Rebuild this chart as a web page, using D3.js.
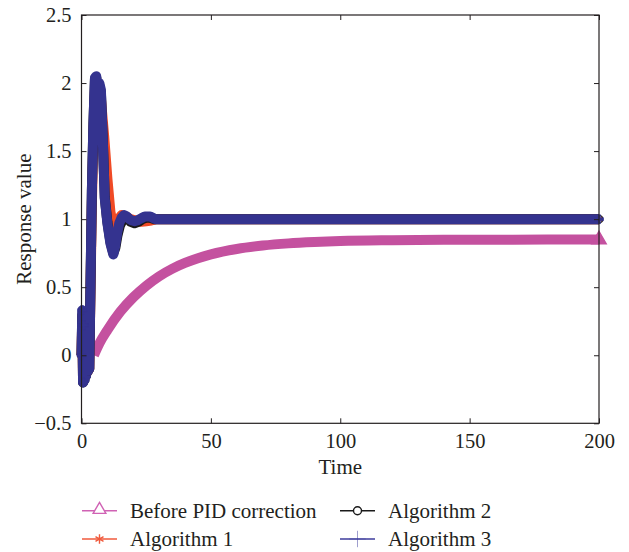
<!DOCTYPE html>
<html><head><meta charset="utf-8">
<script src="https://cdn.jsdelivr.net/npm/d3@7"></script>
<style>
html,body{margin:0;padding:0;background:#fff;}
svg{display:block;}
text{font-family:"Liberation Serif","Times New Roman",serif;fill:#231f20;}
</style></head>
<body><svg id="c" width="629" height="552"></svg>
<script>
// ---- data ----
const xTicks = [0, 50, 100, 150, 200];
const yTicks = [-0.5, 0, 0.5, 1, 1.5, 2, 2.5];
const yTickLabels = ["\u22120.5", "0", "0.5", "1", "1.5", "2", "2.5"];
const seriesNames = ["Before PID correction", "Algorithm 1", "Algorithm 2", "Algorithm 3"];

const tBefore = [4.8, 7, 10, 15, 20, 25, 30, 35, 40, 45, 50, 60, 70, 80, 90, 100, 120, 140, 160, 180, 200];
const yBefore = [0.0, 0.09, 0.185, 0.32, 0.425, 0.51, 0.58, 0.635, 0.678, 0.713, 0.741, 0.781, 0.806, 0.822, 0.832, 0.839, 0.845, 0.848, 0.849, 0.85, 0.85];

const tAlg1 = [0, 0.3, 0.6, 0.9, 1.2, 1.5, 1.8, 2.1, 2.4, 2.7, 3.0, 3.5, 4.0, 4.6, 5.2, 6.0, 7.2, 8.8, 10.0, 11.2, 12.3, 13.3, 14.3, 15.5, 17, 19, 21, 23, 25, 27, 29, 31, 50, 100, 150, 200];
const yAlg1 = [0, 0.28, -0.18, 0.24, -0.16, 0.2, -0.14, 0.16, -0.12, 0.12, -0.1, 0.5, 1.1, 1.6, 1.95, 2.0, 1.95, 1.6, 1.3, 1.05, 0.95, 0.95, 1.0, 1.03, 1.02, 1.0, 0.99, 0.98, 0.985, 0.99, 1.0, 1.0, 1.0, 1.0, 1.0, 1.0];

const tAlg2 = [0, 0.3, 0.6, 0.9, 1.2, 1.5, 1.8, 2.1, 2.4, 2.7, 3.0, 3.5, 4.0, 4.6, 5.2, 5.7, 6.3, 6.9, 7.5, 8.2, 9.0, 10, 11.2, 12.3, 13.1, 13.9, 14.8, 15.8, 16.8, 17.8, 19, 20.5, 22, 23.5, 25, 26.5, 28, 30, 50, 100, 150, 200];
const yAlg2 = [0, 0.3, -0.2, 0.22, -0.18, 0.2, -0.15, 0.17, -0.12, 0.12, -0.1, 0.55, 1.2, 1.7, 2.03, 2.04, 1.95, 1.98, 1.93, 1.6, 1.16, 0.98, 0.83, 0.75, 0.79, 0.88, 0.95, 0.99, 1.01, 1.01, 0.98, 0.97, 0.98, 1.0, 1.01, 1.01, 1.0, 1.0, 1.0, 1.0, 1.0, 1.0];

const tAlg3 = [0, 0.3, 0.6, 0.9, 1.2, 1.5, 1.8, 2.1, 2.4, 2.7, 3.0, 3.5, 4.0, 4.6, 5.2, 5.7, 6.3, 6.9, 7.5, 8.2, 9.0, 10, 11.2, 12.3, 13, 13.8, 14.6, 15.5, 16.5, 17.5, 18.5, 19.5, 20.5, 21.5, 22.5, 23.5, 24.5, 25.5, 26.5, 27.5, 28.5, 30, 50, 100, 150, 200];
const yAlg3 = [0, 0.33, -0.2, 0.22, -0.18, 0.2, -0.15, 0.17, -0.12, 0.12, -0.1, 0.55, 1.2, 1.7, 2.04, 2.05, 1.95, 2.0, 1.95, 1.6, 1.15, 0.97, 0.82, 0.74, 0.8, 0.9, 0.97, 1.01, 1.03, 1.02, 1.0, 0.99, 0.985, 0.99, 1.0, 1.01, 1.02, 1.02, 1.02, 1.01, 1.0, 1.0, 1.0, 1.0, 1.0, 1.0];

const colors = ["#c4519f", "#f04a25", "#1a1a1a", "#34338f"];
const legendColors = ["#d062b4", "#f05a3c", "#1a1a1a", "#3e3d9c"];

// ---- chart ----
const svg = d3.select("#c");
const L = 81.5, R = 599, T = 15, B = 423.3;
const x = d3.scaleLinear().domain([0, 200]).range([L, R]);
const y = d3.scaleLinear().domain([-0.5, 2.5]).range([B, T]);

const series = [
  {t: tBefore, v: yBefore, marker: "tri", curve: d3.curveMonotoneX},
  {t: tAlg1, v: yAlg1, marker: "star", curve: d3.curveLinear},
  {t: tAlg2, v: yAlg2, marker: "circ", curve: d3.curveLinear},
  {t: tAlg3, v: yAlg3, marker: "plus", curve: d3.curveLinear}
];

const symType = {tri: d3.symbolTriangle, star: d3.symbolAsterisk, circ: d3.symbolCircle, plus: d3.symbolCross};

series.forEach((s, i) => {
  const pts = s.t.map((t, k) => [t, s.v[k]]);
  const line = d3.line().x(d => x(d[0])).y(d => y(d[1])).curve(s.curve);
  svg.append("path").datum(pts)
    .attr("d", line)
    .attr("fill", "none")
    .attr("stroke", colors[i])
    .attr("stroke-width", 10)
    .attr("stroke-linejoin", "round")
    .attr("stroke-linecap", "butt");
  // markers visible at the start cluster and at the final sample
  const shown = pts.filter((d, k) => d[0] <= 1.0 || k === pts.length - 1);
  const g = svg.append("g");
  g.selectAll("path").data(shown).join("path")
    .attr("transform", d => `translate(${x(d[0])},${y(d[1])})`)
    .attr("d", d3.symbol().type(symType[s.marker]).size(s.marker === "tri" ? 90 : 45))
    .attr("fill", s.marker === "circ" ? "none" : colors[i])
    .attr("stroke", colors[i])
    .attr("stroke-width", s.marker === "plus" ? 0.5 : 1.4);
});

// axes box
const ax = svg.append("g").attr("fill", "none").attr("stroke", "#231f20").attr("stroke-width", 1.2);
ax.append("rect").attr("x", L).attr("y", T).attr("width", R - L).attr("height", B - T);

const bottomAxis = d3.axisBottom(x).tickValues(xTicks).tickSizeInner(-5).tickSizeOuter(0).tickPadding(10);
const gb = svg.append("g").attr("transform", `translate(0,${B})`).call(bottomAxis);
const topAxis = d3.axisTop(x).tickValues(xTicks).tickSizeInner(-5).tickSizeOuter(0).tickFormat("");
const gt = svg.append("g").attr("transform", `translate(0,${T})`).call(topAxis);
const leftAxis = d3.axisLeft(y).tickValues(yTicks).tickSizeInner(-5).tickSizeOuter(0).tickPadding(10)
  .tickFormat((d, i) => yTickLabels[i]);
const gl = svg.append("g").attr("transform", `translate(${L},0)`).call(leftAxis);
const rightAxis = d3.axisRight(y).tickValues(yTicks).tickSizeInner(-5).tickSizeOuter(0).tickFormat("");
const gr = svg.append("g").attr("transform", `translate(${R},0)`).call(rightAxis);
[gb, gt, gl, gr].forEach(g => {
  g.select(".domain").remove();
  g.selectAll(".tick line").attr("stroke", "#231f20").attr("stroke-width", 1);
  g.selectAll("text").attr("font-family", '"Liberation Serif", serif').attr("font-size", 20.5).attr("fill", "#231f20");
});
gb.selectAll("text").attr("dy", "0.71em");

svg.append("text").attr("x", (L + R) / 2).attr("y", 474).attr("text-anchor", "middle")
  .attr("font-size", 21).text("Time");
svg.append("text").attr("transform", `translate(31,${(T + B) / 2}) rotate(-90)`)
  .attr("text-anchor", "middle").attr("font-size", 21).text("Response value");

// legend
const legendPos = [[82, 510.7], [82, 539], [340, 510.7], [340, 539]];
seriesNames.forEach((name, i) => {
  const [lx, ly] = legendPos[i];
  const g = svg.append("g");
  g.append("line").attr("x1", lx).attr("x2", lx + 35).attr("y1", ly).attr("y2", ly)
    .attr("stroke", legendColors[i]).attr("stroke-width", 1.6);
  const m = series[i].marker;
  const sz = {tri: 70, star: 60, circ: 50, plus: 90}[m];
  const st = {tri: d3.symbolTriangle, star: d3.symbolAsterisk, circ: d3.symbolCircle, plus: d3.symbolPlus}[m];
  g.append("path").attr("transform", `translate(${lx + 17.5},${ly - (m === "tri" ? 1 : 0)})`)
    .attr("d", d3.symbol().type(st).size(sz)())
    .attr("fill", (m === "tri" || m === "circ") ? "#fff" : legendColors[i])
    .attr("stroke", legendColors[i]).attr("stroke-width", m === "plus" ? 0.5 : 1.4);
  g.append("text").attr("x", lx + 48).attr("y", ly).attr("dy", "0.35em")
    .attr("font-size", 21).text(name);
});
</script></body></html>
